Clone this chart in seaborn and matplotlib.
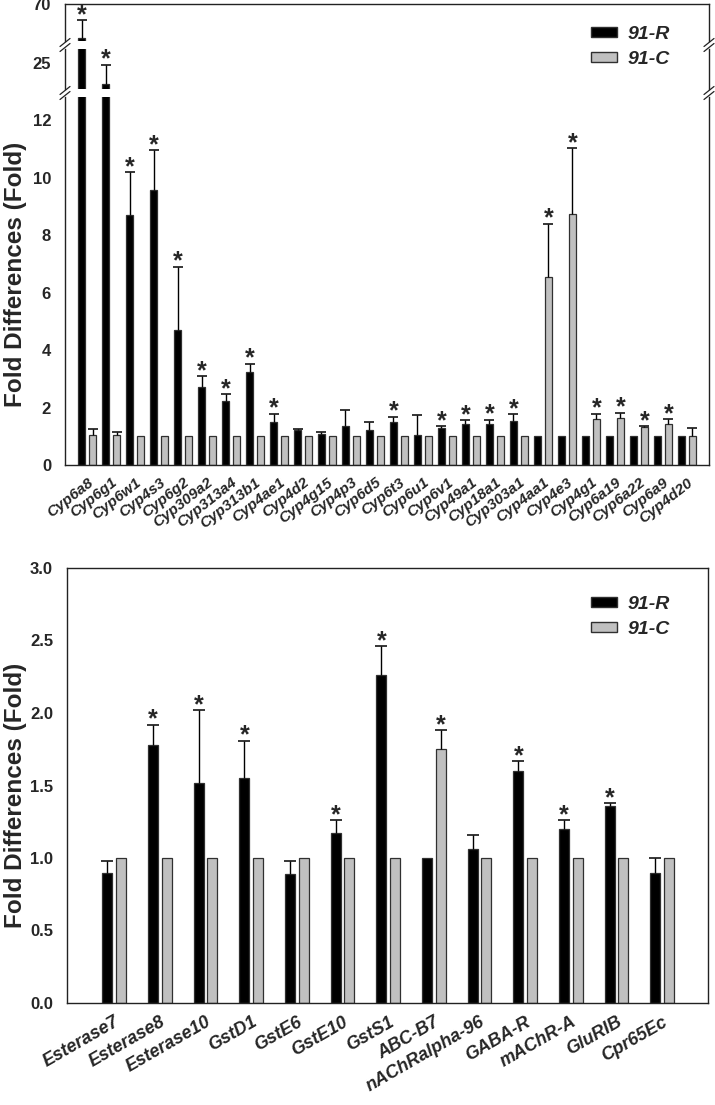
import matplotlib
matplotlib.use("Agg")
import matplotlib.pyplot as plt
from matplotlib.lines import Line2D
from matplotlib.patches import Patch
import numpy as np
import pandas as pd
import seaborn as sns

# ---- data: P450 panel ----
cyp_genes = ["Cyp6a8", "Cyp6g1", "Cyp6w1", "Cyp4s3", "Cyp6g2", "Cyp309a2", "Cyp313a4",
             "Cyp313b1", "Cyp4ae1", "Cyp4d2", "Cyp4g15", "Cyp4p3", "Cyp6d5", "Cyp6t3",
             "Cyp6u1", "Cyp6v1", "Cyp49a1", "Cyp18a1", "Cyp303a1", "Cyp4aa1", "Cyp4e3",
             "Cyp4g1", "Cyp6a19", "Cyp6a22", "Cyp6a9", "Cyp4d20"]
cyp_r = [33.2, 17.8, 8.70, 9.55, 4.70, 2.71, 2.23, 3.25, 1.50, 1.21, 1.07, 1.34, 1.22,
         1.48, 1.06, 1.28, 1.43, 1.41, 1.53, 1.0, 1.0, 1.0, 1.0, 1.0, 1.0, 1.0]
cyp_r_err = [19.0, 6.7, 1.50, 1.40, 2.20, 0.39, 0.24, 0.28, 0.29, 0.05, 0.08, 0.57, 0.28,
             0.20, 0.69, 0.08, 0.14, 0.17, 0.23, 0, 0, 0, 0, 0, 0, 0]
cyp_c = [1.03, 1.03, 1.0, 1.0, 1.0, 1.0, 1.0, 1.0, 1.0, 1.0, 1.0, 1.0, 1.0,
         1.0, 1.0, 1.0, 1.0, 1.0, 1.0, 6.55, 8.73, 1.61, 1.63, 1.31, 1.44, 1.01]
cyp_c_err = [0.21, 0.12, 0, 0, 0, 0, 0, 0, 0, 0, 0, 0, 0,
             0, 0, 0, 0, 0, 0, 1.85, 2.30, 0.18, 0.19, 0.05, 0.15, 0.29]
cyp_r_sig = [1, 1, 1, 1, 1, 1, 1, 1, 1, 0, 0, 0, 0, 1, 0, 1, 1, 1, 1, 0, 0, 0, 0, 0, 0, 0]
cyp_c_sig = [0, 0, 0, 0, 0, 0, 0, 0, 0, 0, 0, 0, 0, 0, 0, 0, 0, 0, 0, 1, 1, 1, 1, 1, 1, 0]

# ---- data: other detox / target genes ----
oth_genes = ["Esterase7", "Esterase8", "Esterase10", "GstD1", "GstE6", "GstE10", "GstS1",
             "ABC-B7", "nAChRalpha-96", "GABA-R", "mAChR-A", "GluRIB", "Cpr65Ec"]
oth_r = [0.90, 1.78, 1.52, 1.55, 0.89, 1.17, 2.26, 1.0, 1.06, 1.60, 1.20, 1.36, 0.90]
oth_r_err = [0.08, 0.14, 0.50, 0.26, 0.09, 0.09, 0.20, 0, 0.10, 0.07, 0.06, 0.02, 0.10]
oth_c = [1.0, 1.0, 1.0, 1.0, 1.0, 1.0, 1.0, 1.75, 1.0, 1.0, 1.0, 1.0, 1.0]
oth_c_err = [0, 0, 0, 0, 0, 0, 0, 0.13, 0, 0, 0, 0, 0]
oth_r_sig = [0, 1, 1, 1, 0, 1, 1, 0, 0, 1, 1, 1, 0]
oth_c_sig = [0, 0, 0, 0, 0, 0, 0, 1, 0, 0, 0, 0, 0]

strains = ["91-R", "91-C"]
palette = {"91-R": "black", "91-C": "#c0c0c0"}

W, H = 715, 1105


def long_df(genes, r, c):
    return pd.DataFrame({
        "gene": genes * 2,
        "strain": ["91-R"] * len(genes) + ["91-C"] * len(genes),
        "value": list(r) + list(c),
    })


def draw_bars(ax, df, errs, sigs, width, gap, cap):
    sns.barplot(data=df, x="gene", y="value", hue="strain", hue_order=strains,
                palette=palette, width=width, gap=gap, errorbar=None,
                edgecolor="#303030", linewidth=0.9, legend=False, ax=ax)
    for cont, err, sig in zip(ax.containers, errs, sigs):
        xs = np.array([p.get_x() + p.get_width() / 2 for p in cont.patches])
        ys = np.array([p.get_height() for p in cont.patches])
        err = np.array(err, dtype=float)
        m = err > 0
        # one-sided (upper) error bars with a cap only on top
        ax.vlines(xs[m], ys[m], ys[m] + err[m], color="black", lw=1.0)
        ax.plot(xs[m], ys[m] + err[m], ls="none", marker="_", ms=cap, mew=1.1, color="black")
        for x, y, e, s in zip(xs, ys, err, sig):
            if s:
                ax.annotate("*", (x, y + e), xytext=(0, -1.5), textcoords="offset points",
                            ha="center", va="baseline", fontsize=18)


def style_ax(ax, size):
    ax.set_xlabel("")
    ax.set_ylabel("")
    for s in ax.spines.values():
        s.set_linewidth(1.0)
        s.set_color("#222222")
    ax.tick_params(axis="y", direction="out", length=4, width=1, pad=6, labelsize=size)
    ax.tick_params(axis="x", direction="out", length=4, width=1)
    for t in ax.get_yticklabels():
        t.set_fontweight("bold")


def fig_rect(x0, y0, x1, y1):
    # pixel box (top-left origin) -> figure fraction rect
    return [x0 / W, 1 - y1 / H, (x1 - x0) / W, (y1 - y0) / H]


def break_mark(fig, xpix, ypix):
    for dy in (-2.5, 2.5):
        fig.add_artist(Line2D([(xpix - 5) / W, (xpix + 5) / W],
                              [1 - (ypix + dy + 4) / H, 1 - (ypix + dy - 4) / H],
                              transform=fig.transFigure, color="#222222", lw=0.9))


sns.set_style("white")
plt.rcParams["font.family"] = ["Liberation Sans", "DejaVu Sans"]
plt.rcParams["font.weight"] = "bold"

fig = plt.figure(figsize=(W / 100, H / 100), dpi=100)

# ---- top panel: broken y axis in three pieces ----
xl, xr = 65, 709
ax_hi = fig.add_axes(fig_rect(xl, 4, xr, 41))
ax_mid = fig.add_axes(fig_rect(xl, 49, xr, 89))
ax_lo = fig.add_axes(fig_rect(xl, 97, xr, 465))

cyp_df = long_df(cyp_genes, cyp_r, cyp_c)
for ax, lim, ticks in [(ax_hi, (30, 70), [70]), (ax_mid, (16, 30), [25]),
                       (ax_lo, (0, 12.8), [0, 2, 4, 6, 8, 10, 12])]:
    draw_bars(ax, cyp_df, [cyp_r_err, cyp_c_err], [cyp_r_sig, cyp_c_sig],
              width=0.92, gap=0.3, cap=7.5)
    ax.set_ylim(*lim)
    ax.set_yticks(ticks)
    ax.set_xlim(-0.92, len(cyp_genes) - 0.08)
    style_ax(ax, 12)

for ax in (ax_hi, ax_mid):
    ax.tick_params(axis="x", bottom=False, labelbottom=False)
    ax.spines["bottom"].set_visible(False)
for ax in (ax_mid, ax_lo):
    ax.spines["top"].set_visible(False)

ax_lo.set_xticks(range(len(cyp_genes)))
ax_lo.set_xticklabels(cyp_genes, rotation=38, ha="right", rotation_mode="anchor",
                      fontsize=11, fontweight="bold", fontstyle="italic")

for yb in (45, 93):
    break_mark(fig, xl, yb)
    break_mark(fig, xr, yb)

fig.text(16 / W, 1 - 274 / H, "Fold Differences (Fold)", rotation=90, ha="center",
         va="center", fontsize=17.5, fontweight="bold")

# ---- bottom panel ----
ax2 = fig.add_axes(fig_rect(67, 568, 708, 1003))
oth_df = long_df(oth_genes, oth_r, oth_c)
draw_bars(ax2, oth_df, [oth_r_err, oth_c_err], [oth_r_sig, oth_c_sig],
          width=0.6, gap=0.27, cap=8.5)
ax2.set_ylim(0, 3.0)
ax2.set_yticks(np.arange(0, 3.01, 0.5))
ax2.set_yticklabels([f"{v:.1f}" for v in np.arange(0, 3.01, 0.5)])
ax2.set_xlim(-1.03, len(oth_genes) - 0.0)
style_ax(ax2, 12)
ax2.set_xticks(range(len(oth_genes)))
ax2.set_xticklabels(oth_genes, rotation=30, ha="right", rotation_mode="anchor",
                    fontsize=13, fontweight="bold", fontstyle="italic")
fig.text(16 / W, 1 - 795 / H, "Fold Differences (Fold)", rotation=90, ha="center",
         va="center", fontsize=17.5, fontweight="bold")

# legends
handles = [Patch(facecolor="black", edgecolor="#303030", label="91-R"),
           Patch(facecolor="#c0c0c0", edgecolor="#303030", label="91-C")]
legend_kw = dict(frameon=False, handlelength=1.35, handleheight=0.45, handletextpad=0.55,
                 labelspacing=0.42, borderpad=0, borderaxespad=0, loc="upper left",
                 prop={"weight": "bold", "style": "italic", "size": 14})
fig.legend(handles=handles, bbox_to_anchor=(591 / W, 1 - 26 / H), **legend_kw)
fig.legend(handles=handles, bbox_to_anchor=(591 / W, 1 - 596 / H), **legend_kw)

fig.savefig("out.png", dpi=100)
